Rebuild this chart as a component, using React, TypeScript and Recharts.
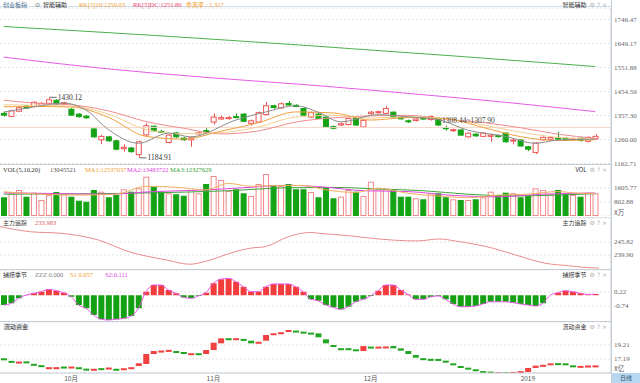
import React from "react";
import {
  ComposedChart,
  Bar,
  Line,
  XAxis,
  YAxis,
  CartesianGrid,
  ReferenceDot,
  ReferenceLine,
  Cell,
} from "recharts";

// daily candles, index 0 = mid Sep 2018
const opens = [1365, 1353, 1374, 1395, 1393, 1398, 1406, 1418, 1405, 1382, 1362, 1354, 1302, 1258, 1270, 1254, 1222, 1225, 1198, 1278, 1313, 1292, 1247, 1286, 1265, 1258, 1283, 1295, 1330, 1342, 1345, 1352, 1362, 1325, 1330, 1360, 1396, 1387, 1405, 1398, 1385, 1350, 1362, 1350, 1312, 1318, 1320, 1345, 1310, 1364, 1368, 1365, 1370, 1347, 1335, 1336, 1346, 1340, 1345, 1307, 1295, 1298, 1270, 1281, 1272, 1272, 1275, 1285, 1254, 1257, 1230, 1207, 1258, 1260, 1265, 1264, 1258, 1264, 1252, 1262];
const closes = [1358, 1375, 1388, 1387, 1410, 1406, 1420, 1403, 1408, 1358, 1352, 1347, 1270, 1272, 1254, 1220, 1228, 1210, 1250, 1315, 1294, 1290, 1277, 1270, 1258, 1266, 1286, 1290, 1350, 1348, 1348, 1348, 1333, 1335, 1368, 1396, 1389, 1404, 1399, 1393, 1358, 1368, 1345, 1310, 1305, 1323, 1345, 1318, 1337, 1370, 1372, 1385, 1350, 1344, 1332, 1342, 1343, 1352, 1318, 1303, 1299, 1277, 1285, 1274, 1285, 1277, 1271, 1250, 1257, 1233, 1220, 1245, 1268, 1267, 1262, 1258, 1263, 1255, 1268, 1272];
const highs = [1372, 1380, 1392, 1398, 1414, 1410, 1430.12, 1422, 1412, 1386, 1366, 1358, 1305, 1278, 1274, 1258, 1240, 1228, 1255, 1325, 1316, 1298, 1280, 1290, 1268, 1270, 1290, 1305, 1365, 1356, 1354, 1365, 1366, 1340, 1372, 1412, 1400, 1410, 1415, 1402, 1388, 1372, 1366, 1352, 1316, 1328, 1348, 1348, 1340, 1375, 1376, 1395, 1373, 1352, 1340, 1346, 1350, 1356, 1348, 1315, 1304, 1301, 1288, 1284, 1288, 1282, 1279, 1288, 1262, 1260, 1233, 1248, 1272, 1271, 1290, 1268, 1267, 1268, 1272, 1280];
const lows = [1352, 1350, 1370, 1384, 1390, 1395, 1402, 1400, 1400, 1355, 1348, 1343, 1266, 1240, 1250, 1216, 1210, 1206, 1184.91, 1274, 1290, 1286, 1243, 1266, 1254, 1230, 1280, 1286, 1320, 1338, 1340, 1345, 1330, 1315, 1326, 1356, 1384, 1384, 1396, 1390, 1355, 1346, 1342, 1306, 1300, 1314, 1316, 1314, 1306, 1360, 1364, 1362, 1346, 1340, 1326, 1332, 1340, 1336, 1314, 1295, 1290, 1274, 1266, 1270, 1268, 1250, 1267, 1246, 1240, 1230, 1212, 1200, 1255, 1256, 1258, 1254, 1254, 1251, 1248, 1258];

// volume, unit 万
const volumes = [1072, 1302, 1491, 1107, 1337, 918, 1204, 1376, 1244, 1107, 878, 820, 1491, 1394, 1072, 1204, 1531, 1394, 1589, 2254, 1680, 1394, 1302, 1244, 1164, 1491, 1302, 1835, 2294, 2065, 1434, 1531, 1302, 1147, 1835, 2409, 1778, 1720, 1835, 1531, 1531, 1376, 1072, 1646, 1015, 1107, 1491, 1394, 1147, 1967, 1531, 1531, 1491, 1107, 1107, 1015, 958, 1302, 1302, 1072, 958, 918, 918, 958, 1072, 1394, 1204, 1337, 1302, 1072, 1164, 1589, 1491, 1244, 1491, 1244, 1204, 1107, 1337, 1302];

// 捕捞季节 histogram
const seasonVals = [-0.67, -0.56, -0.21, 0.02, 0.13, 0.24, 0.4, 0.31, 0.17, -0.1, -0.67, -0.9, -1.36, -1.65, -1.7, -1.65, -1.59, -1.43, -0.9, 0.24, 0.7, 0.7, 0.36, 0.13, -0.15, -0.21, -0.05, 0.17, 0.82, 1.1, 1.15, 0.93, 0.58, 0.24, 0.24, 0.58, 0.77, 0.77, 0.77, 0.58, 0.24, -0.28, -0.38, -0.67, -0.83, -0.97, -0.79, -0.45, -0.28, -0.05, 0.31, 0.7, 0.7, 0.36, 0.05, -0.28, -0.28, -0.12, -0.05, -0.28, -0.6, -0.79, -0.79, -0.74, -0.6, -0.45, -0.45, -0.45, -0.51, -0.6, -0.67, -0.74, -0.56, 0.0, 0.17, 0.31, 0.24, 0.13, 0.05, 0.08];

// 流动资金 (亿) open / close
const fundOpen = [17.29, 16.92, 16.78, 16.85, 16.5, 16.3, 15.97, 15.97, 16.1, 16.06, 16.0, 15.8, 15.64, 15.87, 15.92, 15.78, 15.74, 15.97, 16.18, 16.47, 17.91, 18.37, 18.47, 18.34, 18.2, 17.99, 18.03, 17.91, 18.49, 19.45, 20.19, 20.15, 20.09, 19.83, 19.45, 19.83, 20.87, 21.01, 21.1, 21.29, 21.14, 21.0, 20.89, 20.03, 19.21, 18.75, 18.75, 18.59, 18.34, 18.98, 18.94, 18.96, 19.06, 18.73, 18.34, 17.77, 17.31, 17.21, 17.2, 16.95, 16.57, 16.18, 15.94, 15.71, 15.46, 15.37, 15.25, 15.29, 15.28, 15.4, 15.32, 15.9, 16.31, 16.28, 16.59, 16.57, 16.28, 16.16, 16.21, 16.23];
const fundClose = [17.02, 16.82, 16.82, 16.62, 16.45, 16.06, 16.01, 16.01, 16.06, 16.1, 15.88, 15.64, 15.78, 15.83, 15.96, 15.64, 15.86, 16.01, 16.57, 17.91, 18.34, 18.41, 18.51, 18.2, 18.02, 18.03, 17.99, 18.49, 19.54, 20.17, 20.15, 20.19, 20.05, 19.45, 19.68, 20.65, 20.91, 21.05, 21.37, 21.25, 21.1, 20.96, 20.32, 19.45, 18.96, 18.71, 18.71, 18.34, 19.06, 18.94, 18.98, 19.0, 18.73, 18.39, 17.91, 17.38, 17.27, 17.17, 17.0, 16.66, 16.28, 15.94, 15.75, 15.46, 15.27, 15.27, 15.29, 15.25, 15.32, 15.44, 15.9, 16.23, 16.35, 16.57, 16.55, 16.28, 16.08, 16.2, 16.25, 16.27];

// moving-average lines: [index, value]
const ma5Pts = [[0, 1370], [4, 1391], [8, 1407], [11, 1378], [14, 1299], [18, 1244], [22, 1285], [25, 1270], [31, 1338], [35, 1371], [39, 1396], [42, 1370], [45, 1331], [50, 1360], [54, 1351], [58, 1340], [62, 1297], [67, 1272], [71, 1244], [74, 1257], [79, 1261]];
const ma10Pts = [[0, 1392], [4, 1393], [9, 1391], [14, 1349], [19, 1272], [24, 1261], [29, 1293], [34, 1327], [39, 1371], [44, 1367], [49, 1338], [54, 1348], [59, 1344], [64, 1308], [69, 1271], [74, 1255], [79, 1258]];
const ma15Pts = [[0, 1400], [9, 1394], [14, 1362], [19, 1300], [24, 1283], [29, 1287], [34, 1310], [39, 1350], [44, 1357], [49, 1346], [54, 1352], [59, 1343], [64, 1318], [69, 1289], [74, 1268], [79, 1261]];
const ma20Pts = [[0, 1418], [5, 1405], [9, 1400], [14, 1375], [19, 1332], [24, 1305], [29, 1282], [34, 1294], [39, 1330], [44, 1347], [49, 1355], [54, 1357], [59, 1341], [64, 1328], [69, 1307], [74, 1281], [79, 1264]];
const longGreenPts = [[0, 1717], [20, 1681], [40, 1641], [60, 1598], [79, 1555]];
const longPinkPts = [[0, 1593], [13, 1548], [27, 1511], [40, 1482], [54, 1446], [67, 1410], [79, 1372]];

const vma5Pts = [[0, 1390], [5, 1250], [10, 1200], [15, 1250], [19, 1700], [23, 1650], [27, 1500], [30, 1870], [33, 1700], [37, 1750], [40, 1750], [43, 1500], [47, 1350], [50, 1600], [54, 1300], [58, 1150], [62, 1050], [66, 1200], [70, 1250], [74, 1400], [77, 1300], [79, 1290]];
const vma10Pts = [[0, 1330], [8, 1280], [14, 1250], [20, 1400], [26, 1480], [32, 1620], [38, 1760], [43, 1650], [48, 1450], [54, 1400], [60, 1180], [66, 1100], [72, 1250], [79, 1320]];
const vma20Pts = [[0, 1250], [10, 1270], [20, 1330], [30, 1450], [38, 1620], [44, 1640], [50, 1550], [56, 1450], [62, 1250], [68, 1150], [74, 1200], [79, 1280]];

const trackPts = [[0, 252.8], [4, 250.5], [8, 249.8], [13, 246.7], [17, 241.4], [22, 237.6], [25, 235.7], [27, 236.9], [31, 241.4], [33, 243.0], [35, 243.7], [38, 248.2], [41, 250.2], [42, 249.8], [46, 248.7], [49, 247.5], [55, 246.3], [58, 247.2], [60, 246.3], [65, 243.0], [68, 239.9], [72, 236.1], [75, 235.0], [77, 234.3], [79, 233.98]];

const mainTicks = [1162.71, 1260.0, 1357.3, 1454.59, 1551.88, 1649.17, 1746.47];
const volTicks = [802.88, 1605.77];
const trackTicks = [239.9, 245.82];
const seasonTicks = [-0.74, 0.22];
const fundTicks = [17.19, 19.21];
const monthTicks = [9, 28, 49, 70];
const monthLabels = ["10月", "11月", "12月", "2019"];

const RED = "#ef5353";
const GREEN = "#14a314";
const NUM = '"Liberation Serif", "DejaVu Serif", serif';
const CJK = '"Noto Sans CJK SC", sans-serif';
const AXIS = "#c4cdd6";

const rows: Record<string, number>[] = opens.map((open, i) => ({
  i,
  open,
  close: closes[i],
  high: highs[i],
  low: lows[i],
  vol: volumes[i],
  zzz: seasonVals[i],
  fo: fundOpen[i],
  fc: fundClose[i],
}));

function addPts(key: string, pts: number[][]) {
  pts.forEach(([i, v]) => {
    rows[i][key] = v;
  });
}
addPts("ma5", ma5Pts);
addPts("ma10", ma10Pts);
addPts("ma15", ma15Pts);
addPts("ma20", ma20Pts);
addPts("longG", longGreenPts);
addPts("longP", longPinkPts);
addPts("vma5", vma5Pts);
addPts("vma10", vma10Pts);
addPts("vma20", vma20Pts);
addPts("track", trackPts);

const Candle = (p: any) => {
  const { x, y, width, height, payload } = p;
  const { open, close, high, low } = payload;
  const top = Math.min(y, y + height);
  const h = Math.abs(height);
  const k = high === low ? 0 : h / (high - low);
  const yO = top + (high - open) * k;
  const yC = top + (high - close) * k;
  const up = close >= open;
  const c = up ? RED : GREEN;
  const cx = Math.round(x + width / 2) + 0.5;
  const bt = Math.min(yO, yC);
  const bh = Math.max(1, Math.abs(yC - yO));
  return (
    <g>
      <line x1={cx} x2={cx} y1={top} y2={bt} stroke={c} />
      <line x1={cx} x2={cx} y1={bt + bh} y2={top + h} stroke={c} />
      <rect x={x + 0.5} y={bt} width={width - 1} height={bh} fill={up ? "#fff" : c} stroke={c} />
    </g>
  );
};

const VolBar = (p: any) => {
  const { x, y, width, height, payload } = p;
  const up = payload.close >= payload.open;
  return (
    <rect
      x={x + 0.5}
      y={y + 0.5}
      width={width - 1}
      height={Math.max(0, height - 1)}
      fill={up ? "#fff" : GREEN}
      stroke={up ? "#f08a8a" : GREEN}
    />
  );
};

const FundBar = (p: any) => {
  const { x, y, width, height, payload } = p;
  const up = payload.fc >= payload.fo;
  const top = Math.min(y, y + height);
  const h = Math.max(2, Math.abs(height));
  return <rect x={x} y={top} width={width} height={h} fill={up ? "#f04040" : "#22a522"} />;
};

const tag = (text: string) => (p: any) => (
  <g>
    <line x1={p.cx + 1} x2={p.cx + 8} y1={p.cy} y2={p.cy} stroke="#444" strokeWidth={0.8} />
    <text x={p.cx + 9} y={p.cy + 2.5} fontSize={7.5} fill="#333" fontFamily={NUM}>
      {text}
    </text>
  </g>
);

const levelTag = (p: any) => (
  <text x={p.cx + 4} y={p.cy - 4} fontSize={7.5} fill="#444" fontFamily={NUM}>
    1308.44~1307.90
  </text>
);

const xProps = {
  dataKey: "i",
  type: "category" as const,
  padding: { left: 0, right: 12 },
  hide: true,
};

function yProps(domain: number[], ticks: number[]) {
  return {
    orientation: "right" as const,
    type: "number" as const,
    width: 29,
    domain,
    ticks,
    interval: 0,
    allowDataOverflow: true,
    tickLine: false,
    tickSize: 0,
    tickMargin: 3,
    axisLine: { stroke: AXIS },
    tick: { fontSize: 7, fill: "#666", fontFamily: NUM },
    tickFormatter: (v: number) => v.toFixed(2),
  };
}

const grid = <CartesianGrid vertical={false} strokeDasharray="2 2" stroke="#e2e2e2" />;

function Txt(props: { x: number; y: number; c?: string; f?: string; s?: number; children: React.ReactNode }) {
  return (
    <div
      style={{
        position: "absolute",
        left: props.x,
        top: props.y,
        color: props.c || "#333",
        fontFamily: props.f || NUM,
        fontSize: props.s || 6.5,
        lineHeight: "8px",
        whiteSpace: "nowrap",
      }}
    >
      {props.children}
    </div>
  );
}

function RightTag({ label, y }: { label: string; y: number }) {
  return (
    <div
      style={{
        position: "absolute",
        right: 33,
        top: y,
        fontSize: 6,
        lineHeight: "8px",
        fontFamily: CJK,
        color: "#333",
        whiteSpace: "nowrap",
      }}
    >
      {label}
      <span style={{ color: "#b0b0b0", fontFamily: '"DejaVu Sans", sans-serif', marginLeft: 3 }}>⚙ ? ×</span>
    </div>
  );
}

function HLine({ y, c = AXIS }: { y: number; c?: string }) {
  return <div style={{ position: "absolute", left: 0, top: y, width: 611, height: 1, background: c }} />;
}

export default function App() {
  const abs = (top: number): React.CSSProperties => ({ position: "absolute", left: 0, top });
  return (
    <div
      style={{
        position: "absolute",
        left: 0,
        top: 0,
        width: 640,
        height: 383,
        background: "#fff",
        overflow: "hidden",
      }}
    >
      {/* K line: plot area y 8..164, svg runs a bit lower so the last tick label is not clipped */}
      <div style={abs(0)}>
        <ComposedChart width={640} height={170} data={rows} margin={{ top: 8, right: 0, bottom: 6, left: 0 }} barSize={6}>
          {grid}
          <XAxis {...xProps} />
          <YAxis {...yProps([1160, 1792], mainTicks)} />
          <ReferenceLine y={1308.2} stroke="#f6d6c8" />
          <Line dataKey="longG" stroke="#4cb050" dot={false} connectNulls type="monotone" isAnimationActive={false} />
          <Line dataKey="longP" stroke="#e65ce6" dot={false} connectNulls type="monotone" isAnimationActive={false} />
          <Line dataKey="ma20" stroke="#f08c8c" dot={false} connectNulls type="monotone" isAnimationActive={false} />
          <Line dataKey="ma15" stroke="#f3cf94" dot={false} connectNulls type="monotone" isAnimationActive={false} />
          <Line dataKey="ma10" stroke="#f0a040" dot={false} connectNulls type="monotone" isAnimationActive={false} />
          <Line dataKey="ma5" stroke="#8c8c8c" dot={false} connectNulls type="monotone" isAnimationActive={false} />
          <Bar dataKey={(d: any) => [d.low, d.high]} shape={Candle} isAnimationActive={false} />
          <ReferenceDot x={6} y={1430.12} shape={tag("1430.12")} />
          <ReferenceDot x={18} y={1184.91} shape={tag("1184.91")} />
          <ReferenceDot x={58} y={1308.2} shape={levelTag} />
        </ComposedChart>
      </div>

      {/* volume */}
      <div style={abs(164)}>
        <ComposedChart width={640} height={52} data={rows} margin={{ top: 0, right: 0, bottom: 0, left: 0 }} barSize={6}>
          {grid}
          <XAxis {...xProps} />
          <YAxis {...yProps([0, 2982], volTicks)} />
          <Bar dataKey="vol" shape={VolBar} isAnimationActive={false} />
          <Line dataKey="vma20" stroke="#3aa63a" dot={false} connectNulls type="monotone" isAnimationActive={false} />
          <Line dataKey="vma10" stroke="#e048e0" dot={false} connectNulls type="monotone" isAnimationActive={false} />
          <Line dataKey="vma5" stroke="#f0b060" dot={false} connectNulls type="monotone" isAnimationActive={false} />
        </ComposedChart>
      </div>

      {/* 主力追踪 */}
      <div style={abs(218)}>
        <ComposedChart width={640} height={52} data={rows} margin={{ top: 0, right: 0, bottom: 0, left: 0 }}>
          {grid}
          <XAxis {...xProps} />
          <YAxis {...yProps([233.07, 256.75], trackTicks)} />
          <Line dataKey="track" stroke="#ea8c8c" dot={false} connectNulls type="monotone" isAnimationActive={false} />
        </ComposedChart>
      </div>

      {/* 捕捞季节 */}
      <div style={abs(270)}>
        <ComposedChart width={640} height={52} data={rows} margin={{ top: 0, right: 0, bottom: 0, left: 0 }} barSize={6}>
          {grid}
          <XAxis {...xProps} />
          <YAxis {...yProps([-1.838, 1.729], seasonTicks)} />
          <Bar dataKey="zzz" isAnimationActive={false}>
            {rows.map((r) => (
              <Cell key={r.i} fill={r.zzz >= 0 ? "#f23c3c" : "#13a013"} />
            ))}
          </Bar>
          <Line dataKey="zzz" stroke="#e858e8" dot={false} type="monotone" isAnimationActive={false} />
        </ComposedChart>
      </div>

      {/* 流动资金 */}
      <div style={abs(322)}>
        <ComposedChart width={640} height={61} data={rows} margin={{ top: 0, right: 0, bottom: 0, left: 0 }} barSize={6}>
          {grid}
          <XAxis
            dataKey="i"
            type="category"
            padding={{ left: 0, right: 12 }}
            height={10}
            ticks={monthTicks}
            interval={0}
            tickLine={false}
            tickSize={0}
            tickMargin={3}
            axisLine={{ stroke: AXIS }}
            tick={{ fontSize: 6.5, fill: "#555", fontFamily: CJK }}
            tickFormatter={(v: number) => monthLabels[monthTicks.indexOf(v)] || ""}
          />
          <YAxis {...yProps([15.17, 22.53], fundTicks)} />
          <Bar dataKey={(d: any) => [Math.min(d.fo, d.fc), Math.max(d.fo, d.fc)]} shape={FundBar} isAnimationActive={false} />
        </ComposedChart>
      </div>

      {/* frame lines */}
      <HLine y={6} c="#cfe0ee" />
      <HLine y={164} />
      <HLine y={217} c="#dde3e9" />
      <HLine y={269} />
      <HLine y={321} />
      <div style={{ position: "absolute", left: 611, top: 0, width: 1, height: 383, background: AXIS }} />

      {/* header texts */}
      <Txt x={3} y={1} c="#4a6c8c" f={CJK} s={6}>创业板指</Txt>
      <Txt x={35} y={1} c="#555" f='"DejaVu Sans", sans-serif' s={6}>⊙</Txt>
      <Txt x={43} y={1} c="#333" f={CJK} s={6}>智能辅助</Txt>
      <Txt x={79} y={1} c="#f0a030">RK[5]10:1250.03</Txt>
      <Txt x={133} y={1} c="#ee4466">RK[5]DC:1251.80</Txt>
      <Txt x={186} y={1} c="#f0a030"><span style={{ fontFamily: CJK, fontSize: 6 }}>乖离率</span> : 1.317</Txt>
      <RightTag label="智能辅助" y={1} />

      <Txt x={3} y={166}>VOL(5,10,20)</Txt>
      <Txt x={50} y={166} c="#555">13045521</Txt>
      <Txt x={85} y={166} c="#f0a030">MA1:12537037</Txt>
      <Txt x={127} y={166} c="#e040e0">MA2:13483722</Txt>
      <Txt x={170} y={166} c="#33a033">MA3:12327629</Txt>
      <RightTag label="VOL" y={166} />

      <Txt x={3} y={219} f={CJK} s={6}>主力追踪</Txt>
      <Txt x={35} y={219} c="#e06060">233.983</Txt>
      <RightTag label="主力追踪" y={219} />

      <Txt x={3} y={271} f={CJK} s={6}>捕捞季节</Txt>
      <Txt x={35} y={271} c="#777">ZZZ 0.000</Txt>
      <Txt x={70} y={271} c="#f0a030">S1 0.057</Txt>
      <Txt x={105} y={271} c="#e040e0">S2:0.111</Txt>
      <RightTag label="捕捞季节" y={271} />

      <div
        style={{
          position: "absolute",
          left: 3,
          top: 323,
          fontFamily: CJK,
          fontSize: 6,
          lineHeight: "7px",
          color: "#333",
          background: "#e8ecf0",
          padding: "0 1px",
        }}
      >
        流动资金
      </div>
      <RightTag label="流动资金" y={323} />

      <Txt x={614} y={208} c="#555" f={CJK} s={6.5}>X万</Txt>
      <Txt x={614} y={364} c="#555" f={CJK} s={6.5}>X亿</Txt>
      <div
        style={{
          position: "absolute",
          left: 612,
          top: 373,
          width: 28,
          height: 10,
          background: "#b7d6ef",
          color: "#2c4e70",
          fontFamily: CJK,
          fontSize: 6,
          lineHeight: "10px",
          textAlign: "center",
        }}
      >
        日线
      </div>
    </div>
  );
}
